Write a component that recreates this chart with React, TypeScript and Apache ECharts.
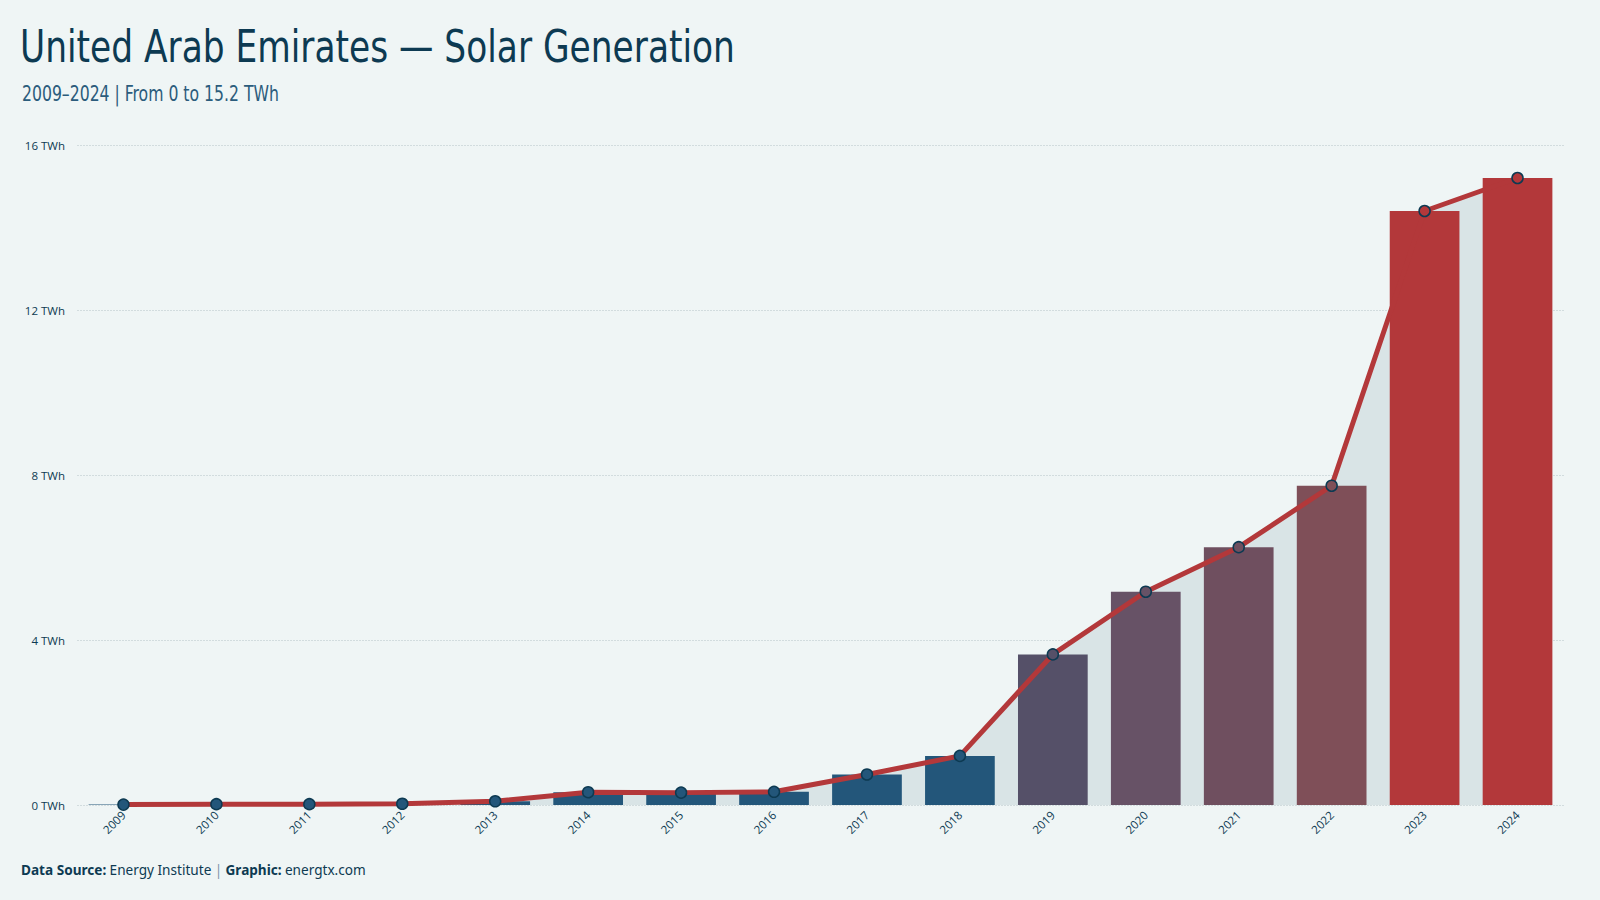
import React, { useEffect, useRef } from "react";
import * as echarts from "echarts";

// Annual solar generation, United Arab Emirates (TWh)
const years = [
  "2009", "2010", "2011", "2012", "2013", "2014", "2015", "2016",
  "2017", "2018", "2019", "2020", "2021", "2022", "2023", "2024",
];
const generationTWh = [
  0.01, 0.02, 0.02, 0.03, 0.09, 0.31, 0.3, 0.32,
  0.74, 1.19, 3.65, 5.17, 6.25, 7.74, 14.4, 15.2,
];
const yTicks = [0, 4, 8, 12, 16];

const TITLE = "United Arab Emirates \u2014 Solar Generation";
const SUBTITLE = "2009\u20132024 | From 0 to 15.2 TWh";

// Value-driven colour ramp for bars and markers
const rampStops: [number, [number, number, number]][] = [
  [1.2, [35, 86, 122]],
  [3.65, [85, 80, 104]],
  [5.17, [103, 82, 102]],
  [6.25, [111, 79, 95]],
  [7.74, [127, 79, 88]],
  [14.4, [179, 56, 58]],
];

function rampColor(v: number): string {
  if (v <= rampStops[0][0]) {
    const c = rampStops[0][1];
    return `rgb(${c[0]},${c[1]},${c[2]})`;
  }
  for (let i = 1; i < rampStops.length; i++) {
    const [v1, c1] = rampStops[i];
    const [v0, c0] = rampStops[i - 1];
    if (v <= v1) {
      const t = (v - v0) / (v1 - v0);
      const c = c0.map((x, k) => Math.round(x + (c1[k] - x) * t));
      return `rgb(${c[0]},${c[1]},${c[2]})`;
    }
  }
  const c = rampStops[rampStops.length - 1][1];
  return `rgb(${c[0]},${c[1]},${c[2]})`;
}

const INK = "#0d3a52";
const BG = "#eff5f5";
const HEAD_FONT = "DejaVu Sans Condensed, DejaVu Sans, sans-serif";

export default function App() {
  const ref = useRef<HTMLDivElement>(null);

  useEffect(() => {
    if (!ref.current) return;
    const chart = echarts.init(ref.current, undefined, { renderer: "svg" });

    chart.setOption({
      animation: false,
      backgroundColor: BG,
      grid: { left: 77, right: 36, top: 145, bottom: 95, containLabel: false },
      xAxis: {
        type: "category",
        data: years,
        boundaryGap: true,
        axisLine: { show: false },
        axisTick: { show: false },
        axisLabel: {
          interval: 0,
          rotate: 45,
          margin: 8,
          fontSize: 11.5,
          fontFamily: "Open Sans",
          color: INK,
        },
      },
      yAxis: {
        type: "value",
        min: yTicks[0],
        max: yTicks[yTicks.length - 1],
        interval: 4,
        axisLine: { show: false },
        axisTick: { show: false },
        axisLabel: {
          formatter: "{value} TWh",
          fontSize: 11.5,
          margin: 12,
          fontFamily: "Open Sans",
          color: INK,
        },
        splitLine: {
          lineStyle: { color: "#d2dcde", width: 1.2, type: [2, 1] },
        },
      },
      series: [
        {
          type: "line",
          data: generationTWh,
          z: 1,
          symbol: "none",
          lineStyle: { width: 0, opacity: 0 },
          areaStyle: { color: "#d9e4e6", opacity: 1 },
          silent: true,
        },
        {
          type: "bar",
          data: generationTWh,
          z: 2,
          barWidth: "75%",
          itemStyle: {
            color: (p: any) => rampColor(p.value as number),
          },
        },
        {
          type: "line",
          data: generationTWh,
          z: 3,
          symbol: "circle",
          symbolSize: 11,
          showSymbol: true,
          lineStyle: { color: "#b3383a", width: 5 },
          itemStyle: {
            color: (p: any) => rampColor(p.value as number),
            borderColor: INK,
            borderWidth: 1.5,
          },
        },
      ],
      graphic: [
        {
          type: "text",
          x: 20,
          y: 24,
          scaleX: 0.85,
          style: {
            text: TITLE,
            fontSize: 45,
            fontFamily: HEAD_FONT,
            fill: INK,
          },
        },
        {
          type: "text",
          x: 22,
          y: 83,
          scaleX: 0.83,
          style: {
            text: SUBTITLE,
            fontSize: 21,
            fontFamily: HEAD_FONT,
            fill: "#2b5c7c",
          },
        },
        {
          type: "text",
          x: 21,
          y: 862,
          style: {
            text:
              "{b|Data Source:} {n|Energy Institute} {s||} {b|Graphic:} {n|energtx.com}",
            rich: {
              b: { fontSize: 13.6, fontWeight: "bold", fontFamily: "Noto Sans", fill: INK },
              n: { fontSize: 13.6, fontFamily: "Noto Sans", fill: INK },
              s: { fontSize: 13.6, fontFamily: "Noto Sans", fill: "#7d97a8" },
            },
          },
        },
      ],
    });

    return () => chart.dispose();
  }, []);

  return (
    <div
      ref={ref}
      style={{ position: "fixed", left: 0, top: 0, width: 1600, height: 900 }}
    />
  );
}
